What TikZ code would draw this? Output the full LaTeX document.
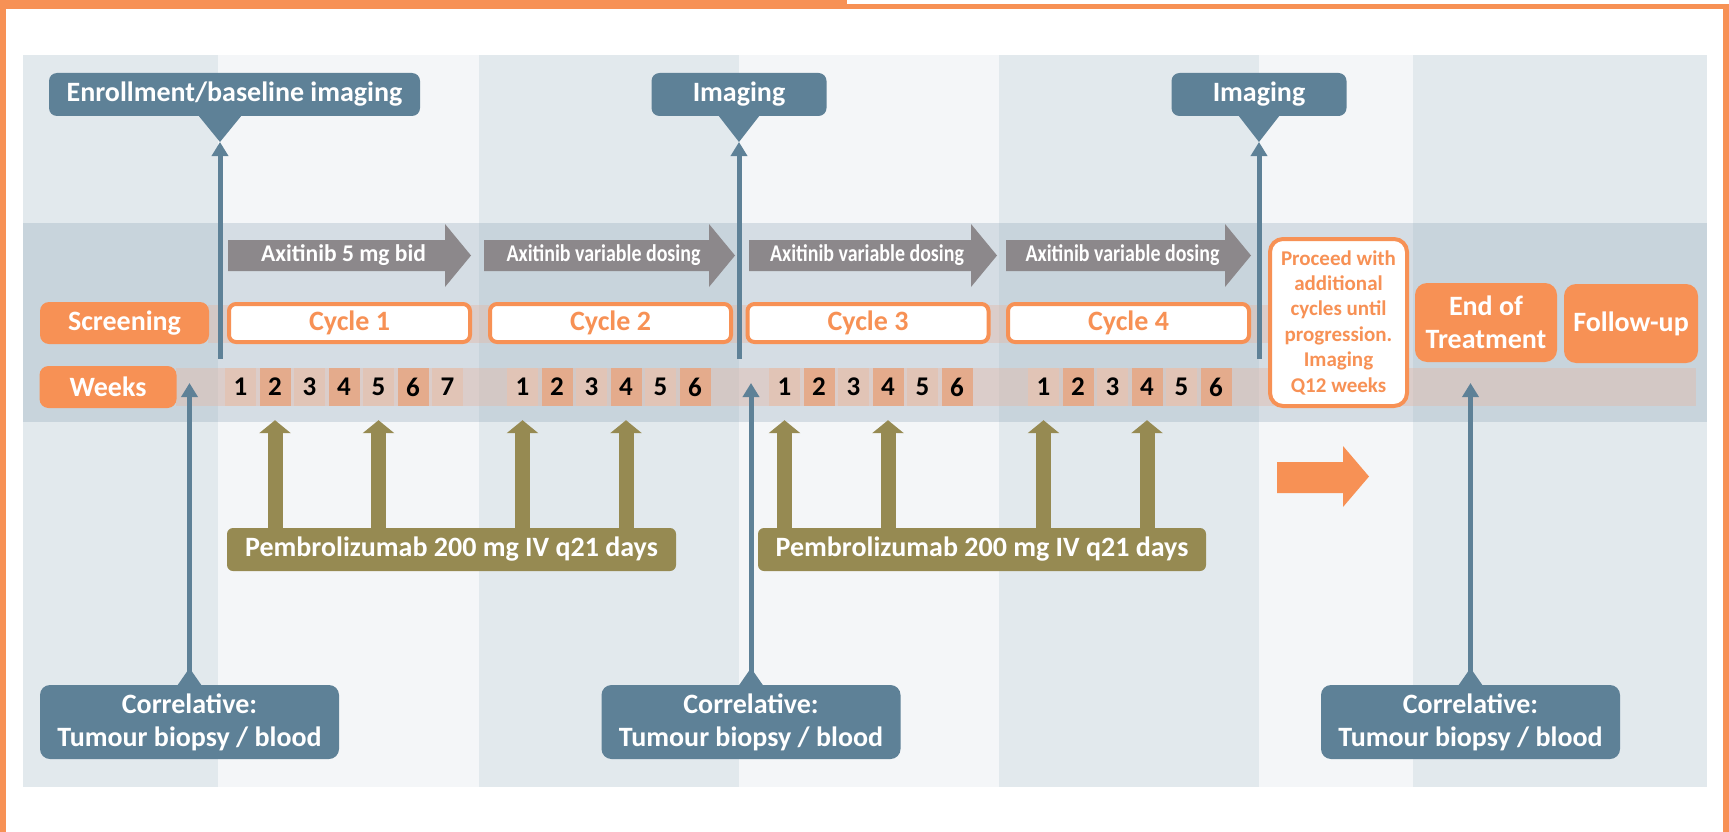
\documentclass[tikz,border=0pt]{standalone}
\usepackage{fontspec}
\setmainfont{Carlito}
\usetikzlibrary{arrows.meta}

\definecolor{trialorange}{HTML}{F79155}
\definecolor{calloutblue}{HTML}{5E8197}
\definecolor{pembroolive}{HTML}{968A52}
\definecolor{axigray}{HTML}{8C888B}
\definecolor{colA}{HTML}{E2E9ED}
\definecolor{colB}{HTML}{F4F6F8}
\definecolor{bandblue}{HTML}{8FA6B8}
\definecolor{stripred}{HTML}{E4B7A4}
\definecolor{weeklight}{HTML}{E1C4B6}
\definecolor{weekdark}{HTML}{E4AB8C}

\newcommand{\bigfont}{\fontsize{28}{33}\selectfont\bfseries}
\newcommand{\axifont}{\fontsize{24}{28}\selectfont\bfseries}

\tikzset{
  callout/.style={fill=calloutblue, text=white, rounded corners=8pt, inner sep=0pt,
    align=center, font=\bigfont},
  orangebox/.style={fill=trialorange, text=white, rounded corners=9pt, inner sep=0pt,
    align=center, font=\bigfont},
  cyclebox/.style={draw=trialorange, line width=4pt, fill=white, text=trialorange,
    rounded corners=7pt, inner sep=0pt, minimum width=241pt, minimum height=38pt,
    font=\bigfont},
  pembrobox/.style={fill=pembroolive, text=white, rounded corners=6pt, inner sep=0pt,
    minimum height=43pt, font=\bigfont},
  weekbox/.style={inner sep=0pt, minimum width=31pt, minimum height=38pt,
    font=\fontsize{27}{30}\selectfont\bfseries},
  week1/.style={fill=weeklight},
  week0/.style={fill=weekdark},
  axilabel/.style={text=white, inner sep=0pt, font=\axifont},
  bluearrow/.style={calloutblue, line width=5pt, -{Triangle[width=16pt,length=14pt]}},
  pembroarrow/.style={pembroolive, line width=15pt, -{Triangle[width=31pt,length=13pt]}}
}

\begin{document}
\begin{tikzpicture}[x=1pt, y=-1pt]
  \useasboundingbox (0,0) rectangle (1729,832);
  % frame
  \fill[trialorange] (0,0) rectangle (847,9.5);
  \fill[trialorange] (847,4.3) rectangle (1729,9.3);
  \fill[trialorange] (0,0) rectangle (5.7,832);
  \fill[trialorange] (1723.3,4.3) rectangle (1729,832);

  % columns and the middle band
  \foreach \xa/\xb/\col in {23/218/colA, 218/479/colB, 479/739/colA, 739/999/colB,
      999/1259/colA, 1259/1413/colB, 1413/1707/colA}
    \fill[\col] (\xa,55) rectangle (\xb,787);
  \fill[bandblue, opacity=0.3] (23,223) rectangle (1707,422);
  \fill[stripred, opacity=0.4] (208,305) rectangle (1268,343);
  \fill[stripred, opacity=0.4] (176,368) rectangle (1696,406);

  % imaging callouts
  \node[callout, minimum width=371pt, minimum height=43pt] (enr) at (234.5,94.5) {Enrollment/baseline imaging};
  \node[callout, minimum width=175pt, minimum height=43pt] (img1) at (739,94.5) {Imaging};
  \node[callout, minimum width=175pt, minimum height=43pt] (img2) at (1259,94.5) {Imaging};
  \fill[calloutblue] (198,115) -- (220,142) -- (242,115) -- cycle;
  \fill[calloutblue] (718,115) -- (739,142) -- (760,115) -- cycle;
  \fill[calloutblue] (1238,115) -- (1259,142) -- (1280,115) -- cycle;
  \coordinate (t1) at (220,142);
  \coordinate (t2) at (739,142);
  \coordinate (t3) at (1259,142);
  \coordinate (b1) at (220,359);
  \coordinate (b2) at (739,359);
  \coordinate (b3) at (1259,359);
  \foreach \i in {1,2,3}
    \draw[bluearrow] (b\i) -- (t\i);

  % axitinib arrows
  \foreach \xa/\xb/\sq/\lab [count=\i] in {228/445/0.98/Axitinib 5 mg bid,
      484/709/0.83/Axitinib variable dosing, 749/971/0.83/Axitinib variable dosing,
      1006/1225/0.83/Axitinib variable dosing} {
    \fill[axigray] (\xa,240) -- (\xb,240) -- (\xb,224) -- (\xb+26,255.5)
      -- (\xb,287) -- (\xb,271) -- (\xa,271) -- cycle;
    \node[axilabel] (ax\i) at ({(\xa+\xb)/2+7},255.5) {\scalebox{\sq}[1]{\lab}};
  }

  % cycles row
  \node[orangebox, minimum width=169pt, minimum height=42pt] (scr) at (124.5,323) {Screening};
  \foreach \cx [count=\i] in {349.5, 610.5, 868, 1128.5}
    \node[cyclebox] (cyc\i) at (\cx,323) {Cycle \i};
  \node[cyclebox, minimum width=137pt, minimum height=167pt, rounded corners=13pt,
    align=center, font=\fontsize{21}{25.4}\selectfont\bfseries] (proc) at (1338.5,322.5)
    {Proceed with\\additional\\cycles until\\progression.\\Imaging\\Q12 weeks};
  \node[orangebox, minimum width=142pt, minimum height=79pt, rounded corners=12pt] (eot) at (1486,322.5) {End of\\Treatment};
  \node[orangebox, minimum width=134pt, minimum height=79pt, rounded corners=12pt] (fup) at (1631,323.5) {Follow-up};

  % weeks row
  \node[orangebox, minimum width=137pt, minimum height=42pt] (wks) at (108,387) {Weeks};
  \foreach \c/\xs/\n in {1/225/7, 2/507/6, 3/769/6, 4/1028/6}
    \foreach \k in {1,...,\n} {
      \pgfmathtruncatemacro\oddw{mod(\k,2)}
      \node[weekbox, week\oddw] (w\c\k) at (\xs+15.5+34.5*\k-34.5,387) {\k};
    }

  % pembrolizumab
  \node[pembrobox, minimum width=449pt] (pb1) at (451.5,549.5) {Pembrolizumab 200 mg IV q21 days};
  \node[pembrobox, minimum width=448pt] (pb2) at (982,549.5) {Pembrolizumab 200 mg IV q21 days};
  \foreach \w/\p in {12/pb1, 15/pb1, 21/pb1, 24/pb1, 31/pb2, 34/pb2, 41/pb2, 44/pb2}
    \draw[pembroarrow] (\p.north -| w\w) -- ([yshift=-14pt]w\w.south);

  % orange arrow to end of treatment
  \fill[trialorange] (1277,462) -- (1343,462) -- (1343,446) -- (1369,476.5)
    -- (1343,507) -- (1343,493) -- (1277,493) -- cycle;

  % correlative callouts
  \foreach \cx [count=\i] in {189.5, 751, 1470.5} {
    \node[callout, minimum width=299pt, minimum height=74pt, rounded corners=10pt] (cor\i) at (\cx,722)
      {Correlative:\\Tumour biopsy / blood};
    \fill[calloutblue] (\cx-12.5,686) -- (\cx,668) -- (\cx+12.5,686) -- cycle;
    \coordinate (ct\i) at (\cx,383);
    \draw[bluearrow] (cor\i.north) -- (ct\i);
  }
\end{tikzpicture}
\end{document}
